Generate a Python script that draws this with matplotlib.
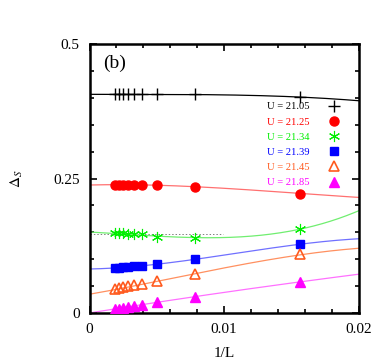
import numpy as np
import matplotlib.pyplot as plt

plt.rcParams['font.family'] = ['Liberation Serif', 'DejaVu Serif']
plt.rcParams['mathtext.fontset'] = 'stix'

# 1/L values of the data points
inv_L = [0.00189, 0.00221, 0.00251, 0.00288, 0.00333, 0.00392, 0.00499, 0.00784, 0.01564]

labels = ['U = 21.05', 'U = 21.25', 'U = 21.34', 'U = 21.39', 'U = 21.45', 'U = 21.85']

d_2105 = [0.4065, 0.4065, 0.4065, 0.4065, 0.4065, 0.4065, 0.4065, 0.4065, 0.4022]
d_2125 = [0.238, 0.238, 0.238, 0.238, 0.238, 0.238, 0.238, 0.2349, 0.2212]
d_2134 = [0.1481, 0.1481, 0.1478, 0.1476, 0.1470, 0.1462, 0.1407, 0.1388, 0.1555]
d_2139 = [0.0837, 0.0843, 0.0849, 0.0855, 0.0868, 0.0880, 0.0905, 0.0998, 0.1277]
d_2145 = [0.0440, 0.0459, 0.0477, 0.0496, 0.0514, 0.0545, 0.0595, 0.0725, 0.1090]
d_2185 = [0.0068, 0.0081, 0.0093, 0.0112, 0.0130, 0.0155, 0.0198, 0.0304, 0.0583]

fit_x = [0.0, 0.005, 0.0078, 0.0120, 0.0156, 0.020]
fit_2105 = [0.4065, 0.4065, 0.4060, 0.4045, 0.4015, 0.3946]
fit_2125 = [0.2380, 0.2372, 0.2350, 0.2290, 0.2220, 0.2150]
fit_2134 = [0.1505, 0.1430, 0.1400, 0.1430, 0.1555, 0.1900]
fit_2139 = [0.0818, 0.0905, 0.0998, 0.1150, 0.1277, 0.1380]
fit_2145 = [0.0347, 0.0595, 0.0725, 0.0920, 0.1090, 0.1200]
fit_2185 = [0.0000, 0.0199, 0.0303, 0.0450, 0.0580, 0.0720]

series = [d_2105, d_2125, d_2134, d_2139, d_2145, d_2185]
fits = [fit_2105, fit_2125, fit_2134, fit_2139, fit_2145, fit_2185]
mcolors = ['black', '#ff0000', '#00ee00', '#0000ff', '#ff5a1e', '#ff00ff']
lcolors = ['black', '#ff7070', '#70ee70', '#7070ff', '#ff9060', '#ff70ff']
markers = ['+', 'o', '*', 's', '^', '^']

fig = plt.figure(figsize=(3.86, 3.61), dpi=100)
ax = fig.add_axes([0.232, 0.133, 0.697, 0.745])

xs = np.linspace(0, 0.02, 200)
for i in range(6):
    c = np.polyfit(fit_x, fits[i], 3)
    ax.plot(xs, np.polyval(c, xs), color=lcolors[i], lw=0.9, zorder=2)

# dotted guide line for U = 21.34
ax.plot([0, 0.0099], [0.147, 0.147], color='gray', lw=0.7, ls=(0, (1.5, 2)), zorder=1)

for i in range(6):
    m = markers[i]
    kw = dict(ls='none', marker=m, color=mcolors[i], label=labels[i], zorder=3)
    if m == '+':
        kw.update(ms=8, mew=1.0)
    elif m == 'o':
        kw.update(ms=6.5)
    elif m == '*':
        kw.update(ms=8, mew=0.8, marker=(6, 2, 0))
    elif m == 's':
        kw.update(ms=6)
    elif i == 4:
        kw.update(ms=6.5, mfc='none', mew=1.2)
    else:
        kw.update(ms=6.5)
    ax.plot(inv_L, series[i], **kw)

leg = ax.legend(loc='upper right', bbox_to_anchor=(0.952, 0.808), frameon=False,
                markerfirst=False, fontsize=7.6, labelcolor=mcolors,
                handlelength=1.0, handletextpad=1.8, labelspacing=0.55,
                borderaxespad=0.2)

ax.set_xlim(0, 0.02)
ax.set_ylim(0, 0.5)
ax.set_xticks([0, 0.01, 0.02])
ax.set_xticklabels(['0', '0.01', '0.02'])
ax.set_yticks([0, 0.25, 0.5])
ax.set_yticklabels(['0', '0.25', '0.5'])
ax.set_xticks(np.arange(0, 0.0201, 0.002), minor=True)
ax.set_yticks(np.arange(0, 0.501, 0.05), minor=True)
ax.tick_params(which='both', direction='in', top=True, right=True, labelsize=11, width=1.2)
ax.tick_params(which='major', length=5, pad=7)
ax.tick_params(which='minor', length=3)
for s in ax.spines.values():
    s.set_linewidth(1.8)

ax.set_xlabel('1/L', fontsize=11, labelpad=8)
ax.set_ylabel(r'$\Delta_S$', fontsize=11, labelpad=20)
ax.text(0.05, 0.93, '(b)', transform=ax.transAxes, fontsize=14, va='center')

fig.savefig('out.png', dpi=100)
